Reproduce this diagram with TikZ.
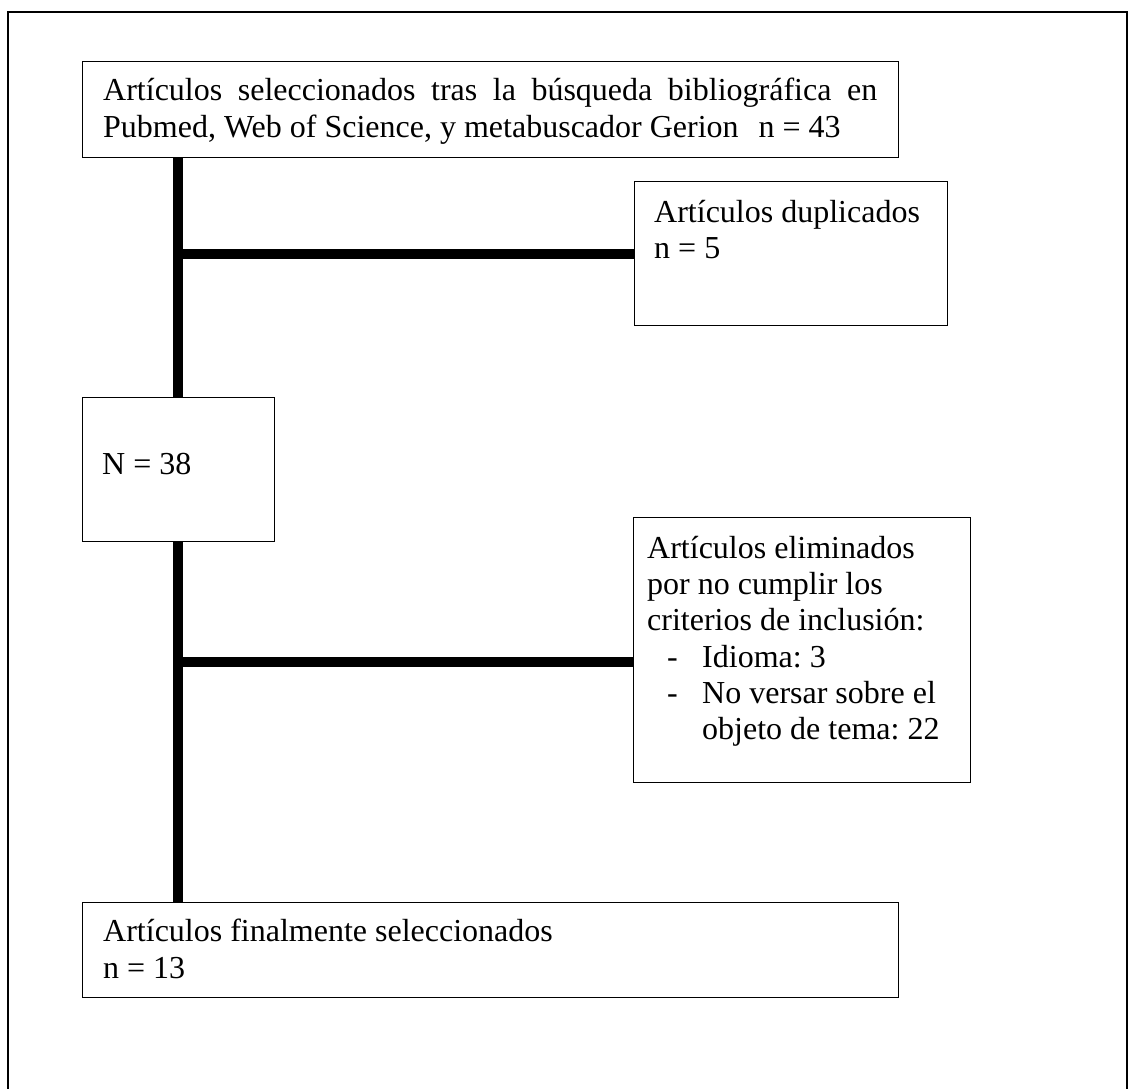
\documentclass[tikz,border=0pt]{standalone}
\usepackage{fontspec}
\setmainfont{Liberation Serif}
\frenchspacing
\begin{document}
\begin{tikzpicture}[x=1pt,y=-1pt,
  box/.style={draw=black,line width=1.4pt,fill=white,rectangle,inner sep=0pt,anchor=north west},
  txt/.style={inner sep=0pt,anchor=base west,font=\fontsize{32}{36.8}\selectfont\frenchspacing},
  conn/.style={line width=10pt,draw=black},
  frame/.style={line width=1.4pt,draw=black}]
\useasboundingbox (0,0) rectangle (1130,1088);
% outer frame (bottom edge lies outside the picture)
\draw[frame] (8,1100) -- (8,12) -- (1127,12) -- (1127,1100);
% spine coordinates
\coordinate (sp) at (178,0);
\coordinate (j2) at (178,662);
% boxes
\node[box,minimum width=816pt,minimum height=96pt] (b1) at (82,61) {};
\node[box,minimum width=313pt,minimum height=144pt] (b2) at (634,181) {};
\node[box,minimum width=192pt,minimum height=144pt] (bN) at (82,397) {};
\node[box,minimum width=337pt,minimum height=265pt] (b4) at (633,517) {};
\node[box,minimum width=816pt,minimum height=95pt] (b5) at (82,902) {};
% connectors
\draw[conn] (b1.south -| sp) -- (bN.north -| sp);
\draw[conn] (bN.south -| sp) -- (b5.north -| sp);
\draw[conn] (b2.west -| sp) -- (b2.west);
\draw[conn] (j2) -- (j2 -| b4.west);
% texts
\node[txt] (t1a) at (103,100) {\makebox[774pt][s]{Artículos seleccionados tras la búsqueda bibliográfica en}};
\node[txt] (t1b) at (103,137) {Pubmed, Web of Science, y metabuscador Gerion\hspace{12pt} n = 43};
\node[txt] (t2a) at (654,222) {Artículos duplicados};
\node[txt] (t2b) at (654,258) {n = 5};
\node[txt] (tN) at (102,474) {N = 38};
\node[txt] (t4a) at (647,558) {Artículos eliminados};
\node[txt] (t4b) at (647,594) {por no cumplir los};
\node[txt] (t4c) at (647,630) {criterios de inclusión:};
\node[txt] (t4d) at (667,667) {-};
\node[txt] (t4e) at (702,667) {Idioma: 3};
\node[txt] (t4f) at (667,703) {-};
\node[txt] (t4g) at (702,703) {No versar sobre el};
\node[txt] (t4h) at (702,739) {objeto de tema: 22};
\node[txt] (t5a) at (103,941) {Artículos finalmente seleccionados};
\node[txt] (t5b) at (103,978) {n = 13};
\end{tikzpicture}
\end{document}
